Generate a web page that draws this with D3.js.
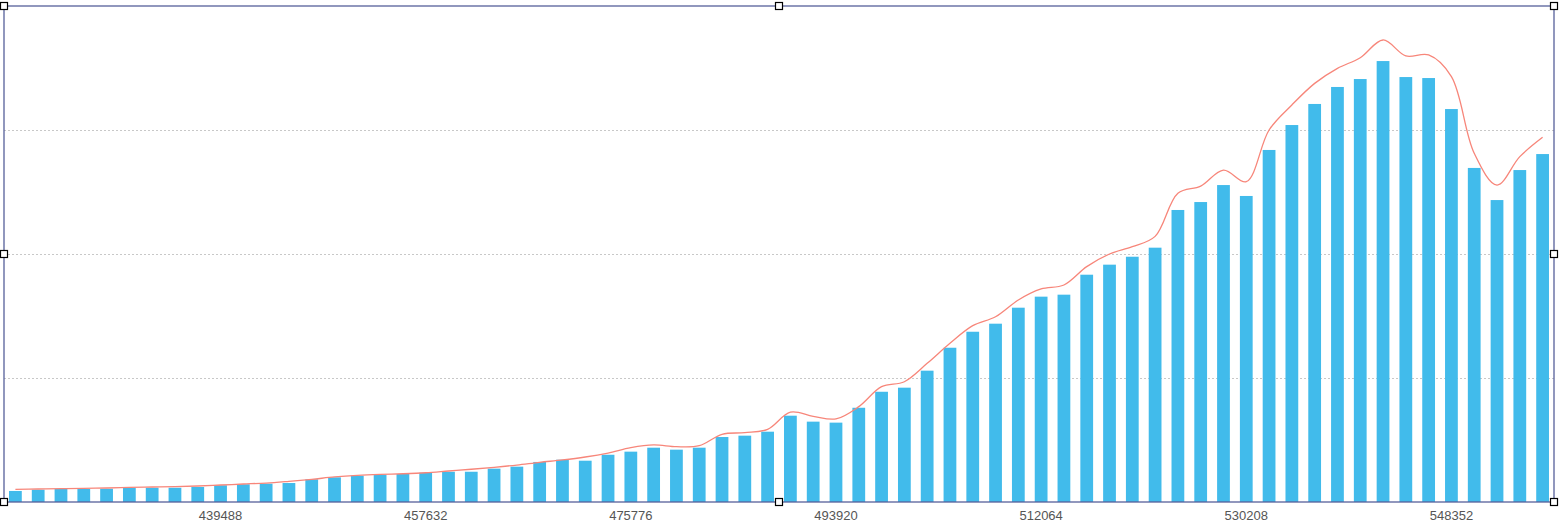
<!DOCTYPE html>
<html>
<head>
<meta charset="utf-8">
<script src="https://cdn.jsdelivr.net/npm/d3@7"></script>
<style>
	body { margin: 0; background: #fff; }
	svg { display: block; }
</style>
</head>
<body>
<svg id="chart"></svg>
<script>

// categories on the x axis
const categories = [421344, 423360, 425376, 427392, 429408, 431424, 433440, 435456, 437472, 439488,
	441504, 443520, 445536, 447552, 449568, 451584, 453600, 455616, 457632, 459648,
	461664, 463680, 465696, 467712, 469728, 471744, 473760, 475776, 477792, 479808,
	481824, 483840, 485856, 487872, 489888, 491904, 493920, 495936, 497952, 499968,
	501984, 504000, 506016, 508032, 510048, 512064, 514080, 516096, 518112, 520128,
	522144, 524160, 526176, 528192, 530208, 532224, 534240, 536256, 538272, 540288,
	542304, 544320, 546336, 548352, 550368, 552384, 554400, 556416];

// bar series
const barValues = [8.9, 9.9, 10.5, 10.5, 10.7, 11.5, 11.5, 11.5, 12.1, 13.5,
	14.3, 14.8, 15.3, 18.3, 19.9, 21.2, 22.0, 22.6, 23.6, 24.4,
	24.4, 26.9, 28.5, 32.3, 34.1, 33.3, 38.1, 40.6, 43.8, 42.2,
	43.8, 52.4, 53.5, 56.7, 69.6, 64.8, 64.0, 76.0, 88.9, 92.2,
	105.9, 124.4, 137.3, 143.8, 156.7, 165.6, 167.2, 183.3, 191.4, 197.8,
	205.1, 235.5, 241.9, 255.6, 246.8, 283.9, 304.0, 321.0, 334.7, 341.1,
	355.6, 342.7, 341.9, 316.9, 269.4, 243.5, 267.7, 280.6];

// smoothed line series
const lineValues = [10.2, 10.5, 10.8, 11.0, 11.3, 11.8, 12.1, 12.4, 12.9, 13.7,
	14.5, 15.3, 16.7, 18.3, 20.2, 21.5, 22.3, 22.8, 23.6, 25.0,
	26.4, 28.0, 29.8, 32.0, 33.9, 36.3, 39.5, 43.8, 46.0, 44.6,
	45.4, 54.6, 55.9, 58.6, 72.4, 69.1, 67.0, 76.9, 93.0, 97.0,
	111.8, 128.0, 142.2, 149.4, 162.9, 171.8, 175.0, 189.8, 200.0, 205.9,
	214.2, 249.0, 254.8, 267.7, 258.3, 300.0, 320.2, 337.6, 349.7, 358.3,
	372.6, 359.7, 360.5, 343.0, 281.2, 255.6, 278.5, 294.1];

const tickLabels = [439488, 457632, 475776, 493920, 512064, 530208, 548352];
const gridValues = [100, 200, 300];

function whenDocumentLoaded(action) {
	if (document.readyState === "loading") {
		document.addEventListener("DOMContentLoaded", action);
	} else {
		action();
	}
}

whenDocumentLoaded(() => {

	let width = 1559;
	let height = 526;

	// plot frame
	let left = 4, right = 1554, top = 6, bottom = 502;

	let svg = d3.select("#chart")
		.attr("width", width)
		.attr("height", height);

	let x = d3.scaleBand()
		.domain(categories)
		.range([left, right])
		.paddingInner(0.44)
		.paddingOuter(0.22);

	let y = d3.scaleLinear()
		.domain([0, 400])
		.range([bottom, top]);

	// grid
	svg.append("g")
		.selectAll("line")
		.data(gridValues)
		.enter()
		.append("line")
			.attr("x1", left)
			.attr("x2", right)
			.attr("y1", d => y(d) + 0.5)
			.attr("y2", d => y(d) + 0.5)
			.attr("stroke", "#c8c8c8")
			.attr("stroke-dasharray", "2,2");

	// bars
	svg.append("g")
		.selectAll("rect")
		.data(barValues)
		.enter()
		.append("rect")
			.attr("x", (d, i) => x(categories[i]))
			.attr("width", x.bandwidth())
			.attr("y", d => y(d))
			.attr("height", d => y(0) - y(d))
			.attr("fill", "#41bbeb");

	// smooth line
	let line = d3.line()
		.x((d, i) => x(categories[i]) + x.bandwidth() / 2)
		.y(d => y(d))
		.curve(d3.curveCatmullRom.alpha(0.5));

	svg.append("path")
		.datum(lineValues)
		.attr("d", line)
		.attr("fill", "none")
		.attr("stroke", "#f7867a")
		.attr("stroke-width", 1.3);

	// x axis labels
	let axis = d3.axisBottom(x)
		.tickValues(tickLabels)
		.tickSize(0)
		.tickPadding(9);

	let gx = svg.append("g")
		.attr("transform", "translate(0," + bottom + ")")
		.call(axis);
	gx.select(".domain").remove();
	gx.selectAll("text")
		.attr("fill", "#555")
		.style("font-family", "'Liberation Sans', Arial, sans-serif")
		.style("font-size", "13px");

	// frame
	svg.append("rect")
		.attr("x", left)
		.attr("y", top)
		.attr("width", right - left)
		.attr("height", bottom - top)
		.attr("fill", "none")
		.attr("stroke", "#56609a")
		.attr("stroke-width", 1.3);

	// selection handles
	let mx = (left + right) / 2, my = (top + bottom) / 2;
	let handles = [[left, top], [mx, top], [right, top],
		[left, my], [right, my],
		[left, bottom], [mx, bottom], [right, bottom]];

	svg.append("g")
		.selectAll("rect")
		.data(handles)
		.enter()
		.append("rect")
			.attr("x", d => d[0] - 3.5)
			.attr("y", d => d[1] - 3.5)
			.attr("width", 7)
			.attr("height", 7)
			.attr("fill", "#fff")
			.attr("stroke", "#000")
			.attr("stroke-width", 1.2);
});
</script>
</body>
</html>
